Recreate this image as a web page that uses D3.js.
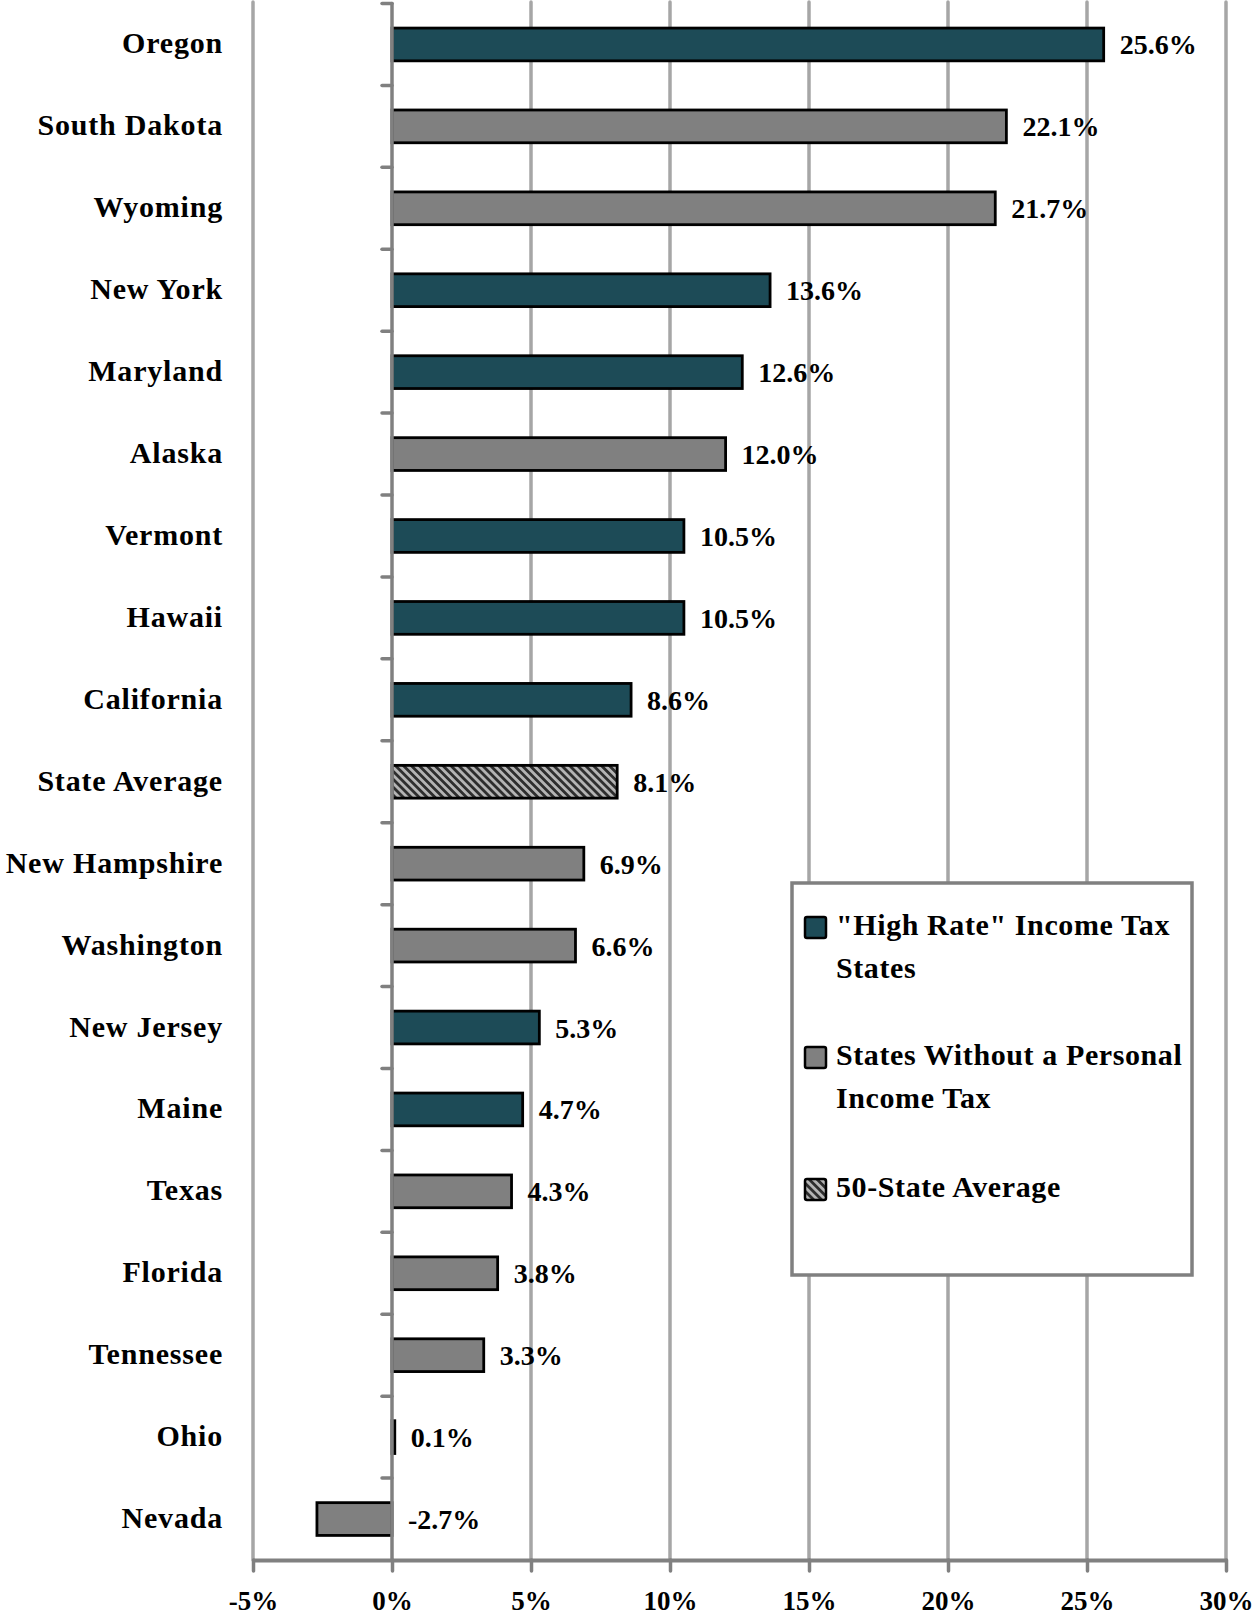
<html lang="en">
<head>
<meta charset="utf-8">
<title>State growth chart</title>
<script src="https://d3js.org/d3.v7.min.js"></script>
<style>
  body { margin: 0; background: #fff; }
  text { font-family: "Liberation Serif", "Times New Roman", serif; font-weight: bold; fill: #000; }
</style>
</head>
<body>
<svg width="1252" height="1616"></svg>
<script>
// data
var states = ["Oregon", "South Dakota", "Wyoming", "New York", "Maryland", "Alaska",
              "Vermont", "Hawaii", "California", "State Average", "New Hampshire",
              "Washington", "New Jersey", "Maine", "Texas", "Florida", "Tennessee",
              "Ohio", "Nevada"];
var values = [25.6, 22.1, 21.7, 13.6, 12.6, 12.0, 10.5, 10.5, 8.6, 8.1, 6.9,
              6.6, 5.3, 4.7, 4.3, 3.8, 3.3, 0.1, -2.7];
var groups = ["high", "none", "none", "high", "high", "none", "high", "high", "high",
              "avg", "none", "none", "high", "high", "none", "none", "none", "none", "none"];
var xTicks = [-5, 0, 5, 10, 15, 20, 25, 30];
var legendGroups = ["high", "none", "avg"];
var legendLines = [['"High Rate" Income Tax', "States"],
                   ["States Without a Personal", "Income Tax"],
                   ["50-State Average"]];

var svg = d3.select("svg");

var plotTop = 3.5, plotBottom = 1560;
var x = d3.scaleLinear().domain([-5, 30]).range([253, 1226]);
var y = d3.scaleBand().domain(states).range([plotTop, plotBottom]).paddingInner(0.6).paddingOuter(0.3);

var fills = { high: "#1d4b57", none: "#808080", avg: "url(#hatch)" };

// hatch pattern for the average bar
var defs = svg.append("defs");
var pat = defs.append("pattern")
    .attr("id", "hatch")
    .attr("patternUnits", "userSpaceOnUse")
    .attr("width", 5.6).attr("height", 5.6)
    .attr("patternTransform", "rotate(-45)");
pat.append("rect").attr("width", 5.6).attr("height", 5.6).attr("fill", "#b4b4b4");
pat.append("rect").attr("width", 2.8).attr("height", 5.6).attr("fill", "#2e2e2e");

// gridlines
svg.append("g").selectAll("line")
    .data(xTicks.filter(function(d) { return d != 0; }))
    .enter().append("line")
    .attr("x1", function(d) { return x(d); })
    .attr("x2", function(d) { return x(d); })
    .attr("y1", plotTop - 1.5).attr("y2", plotBottom)
    .attr("stroke", "#a6a6a6")
    .attr("stroke-width", 3.5)
    .attr("stroke-linecap", "round");

// bottom axis
var xAxis = svg.append("g")
    .attr("transform", "translate(0," + plotBottom + ")")
    .call(d3.axisBottom(x).tickValues(xTicks).tickSize(11).tickSizeOuter(0)
        .tickFormat(function(d) { return d + "%"; }));
xAxis.select(".domain").attr("stroke", "#808080").attr("stroke-width", 4);
xAxis.selectAll(".tick line").attr("stroke", "#808080").attr("stroke-width", 3.5).attr("stroke-linecap", "round");
xAxis.selectAll(".tick text")
    .attr("y", 50).attr("dy", 0)
    .style("font-family", '"Liberation Serif", serif')
    .style("font-weight", "bold")
    .style("font-size", "27px")
    .attr("fill", "#000");

// legend box over the gridlines
var lg = svg.append("g");
lg.append("rect")
    .attr("x", 792).attr("y", 883).attr("width", 400).attr("height", 392)
    .attr("fill", "#fff").attr("stroke", "#808080").attr("stroke-width", 3.5);
var itemTop = [917, 1047, 1179];
legendGroups.forEach(function(g, i) {
    lg.append("rect")
        .attr("x", 805).attr("y", itemTop[i]).attr("width", 21).attr("height", 21)
        .attr("rx", 2)
        .attr("fill", fills[g]).attr("stroke", "#000").attr("stroke-width", 2.5);
    legendLines[i].forEach(function(t, j) {
        lg.append("text")
            .attr("x", 836).attr("y", itemTop[i] + 18 + j * 43)
            .style("font-size", "30px")
            .style("letter-spacing", "0.6px")
            .text(t);
    });
});

// bars
svg.append("g").selectAll("rect")
    .data(states)
    .enter().append("rect")
    .attr("x", function(d, i) { return x(Math.min(0, values[i])); })
    .attr("y", function(d) { return y(d); })
    .attr("width", function(d, i) { return Math.abs(x(values[i]) - x(0)); })
    .attr("height", y.bandwidth())
    .attr("fill", function(d, i) { return fills[groups[i]]; })
    .attr("stroke", "#000")
    .attr("stroke-width", 2.8);

// vertical axis at zero with category ticks
var gap = y.step() - y.bandwidth();
var boundaries = states.map(function(d) { return y(d) - gap / 2; });
var yAxis = svg.append("g");
yAxis.append("line")
    .attr("x1", x(0)).attr("x2", x(0))
    .attr("y1", boundaries[0]).attr("y2", plotBottom)
    .attr("stroke", "#808080").attr("stroke-width", 3.5).attr("stroke-linecap", "round");
yAxis.selectAll(".tk")
    .data(boundaries)
    .enter().append("line")
    .attr("class", "tk")
    .attr("x1", x(0) - 10).attr("x2", x(0))
    .attr("y1", function(d) { return d; }).attr("y2", function(d) { return d; })
    .attr("stroke", "#808080").attr("stroke-width", 3.5).attr("stroke-linecap", "round");

// category labels
svg.append("g").selectAll("text")
    .data(states)
    .enter().append("text")
    .attr("x", 223)
    .attr("y", function(d) { return y(d) + y.bandwidth() / 2 + 9; })
    .attr("text-anchor", "end")
    .style("font-size", "30px")
    .style("letter-spacing", "0.8px")
    .text(function(d) { return d; });

// value labels
svg.append("g").selectAll("text")
    .data(states)
    .enter().append("text")
    .attr("x", function(d, i) { return x(Math.max(0, values[i])) + 16; })
    .attr("y", function(d) { return y(d) + y.bandwidth() / 2 + 10; })
    .style("font-size", "28px")
    .text(function(d, i) { return values[i].toFixed(1) + "%"; });
</script>
</body>
</html>
